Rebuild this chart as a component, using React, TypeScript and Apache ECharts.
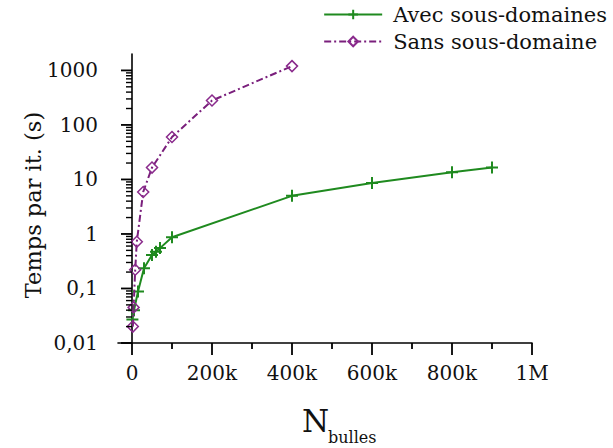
import React, { useEffect, useRef } from "react";
import * as echarts from "echarts";

const seriesNames = ["Avec sous-domaines", "Sans sous-domaine"];
const avecX = [1000, 5000, 15000, 30000, 50000, 60000, 70000, 100000, 400000, 600000, 800000, 900000];
const avecY = [0.027, 0.04, 0.088, 0.235, 0.41, 0.47, 0.55, 0.87, 5.0, 8.6, 13.5, 16.5];
const sansX = [2000, 4000, 8000, 12000, 28000, 50000, 100000, 200000, 400000];
const sansY = [0.02, 0.045, 0.22, 0.72, 5.9, 16.5, 60, 280, 1200];
const xMajorTicks = [0, 200000, 400000, 600000, 800000, 1000000];
const xMinorTicks = [100000, 300000, 500000, 700000, 900000];
const xTickLabels = ["0", "200k", "400k", "600k", "800k", "1M"];
const yMajorTicks = [0.01, 0.1, 1, 10, 100, 1000];
const yTickLabels = ["0,01", "0,1", "1", "10", "100", "1000"];
const yDecades = [0.01, 0.1, 1, 10, 100];
const yMinorMultipliers = [2, 3, 4, 5, 6, 7, 8, 9];

const FONT = "DejaVu Serif";
const GREEN = "#1f8a1f";
const PURPLE = "#8a2a8c";

export default function App() {
  const ref = useRef<HTMLDivElement>(null);
  useEffect(() => {
    if (!ref.current) return;
    const chart = echarts.init(ref.current, undefined, { renderer: "svg" });
    const xMin = -35000;
    const xMax = 1000000;
    const yMin = 0.01;
    const yMax = 2000;
    const yMinorTicks: number[] = [];
    yDecades.forEach((d) => yMinorMultipliers.forEach((k) => yMinorTicks.push(Number((d * k).toPrecision(3)))));
    const labelFor = (v: number, ticks: number[], labels: string[]) => {
      for (let i = 0; i < ticks.length; i++) {
        if (Math.abs(v - ticks[i]) <= Math.abs(ticks[i]) * 1e-6 + 1e-9) return labels[i];
      }
      return "";
    };
    const plus = "path://M5,0L5,10M0,5L10,5";
    // tick marks: thin rects positioned through the axes' own scales (api.coord)
    const xTickSeries = (ticks: number[], len: number, id: string, w: number) => ({
      id,
      type: "custom",
      coordinateSystem: "cartesian2d",
      xAxisIndex: 0,
      yAxisIndex: 0,
      silent: true,
      clip: false,
      z: 5,
      data: ticks.map((v) => [v, yMin]),
      renderItem: (_p: any, api: any) => {
        const pt = api.coord([api.value(0), api.value(1)]);
        return {
          type: "rect",
          shape: { x: pt[0] - w / 2, y: pt[1], width: w, height: len },
          style: { fill: "#000" },
        };
      },
    });
    const yTickSeries = (ticks: number[], len: number, id: string, w: number) => ({
      id,
      type: "custom",
      coordinateSystem: "cartesian2d",
      xAxisIndex: 0,
      yAxisIndex: 0,
      silent: true,
      clip: false,
      z: 5,
      data: ticks.map((v) => [0, v]),
      renderItem: (_p: any, api: any) => {
        const pt = api.coord([api.value(0), api.value(1)]);
        return {
          type: "rect",
          shape: { x: pt[0] - len, y: pt[1] - w / 2, width: len, height: w },
          style: { fill: "#000" },
        };
      },
    });
    chart.setOption({
      animation: false,
      backgroundColor: "#ffffff",
      textStyle: { fontFamily: FONT },
      grid: { left: 118, right: 81, top: 54, bottom: 105, containLabel: false },
      legend: {
        orient: "vertical",
        right: 6,
        top: 4,
        padding: 0,
        itemGap: 6,
        itemWidth: 58,
        itemHeight: 12,
        textStyle: { fontFamily: FONT, fontSize: 21, color: "#111", padding: [0, 0, 0, 6] },
        data: seriesNames,
      },
      xAxis: {
        type: "value",
        min: xMin,
        max: xMax,
        position: "bottom",
        axisLine: { show: true, lineStyle: { color: "#000", width: 1.6 } },
        axisTick: { show: false },
        axisLabel: {
          customValues: xMajorTicks,
          margin: 20,
          fontFamily: FONT,
          fontSize: 20,
          color: "#111",
          formatter: (v: number) => labelFor(v, xMajorTicks, xTickLabels),
        },
        splitLine: { show: false },
      },
      yAxis: {
        type: "log",
        logBase: 10,
        min: yMin,
        max: yMax,
        position: "left",
        axisLine: { show: true, onZero: true, lineStyle: { color: "#000", width: 1.6 } },
        axisTick: { show: false },
        axisLabel: {
          customValues: yMajorTicks,
          margin: 20,
          fontFamily: FONT,
          fontSize: 20,
          color: "#111",
          formatter: (v: number) => labelFor(v, yMajorTicks, yTickLabels),
        },
        splitLine: { show: false },
      },
      series: [
        {
          name: seriesNames[0],
          type: "line",
          data: avecX.map((x, i) => [x, avecY[i]]),
          symbol: plus,
          symbolSize: 12,
          showAllSymbol: true,
          lineStyle: { color: GREEN, width: 2 },
          itemStyle: { color: GREEN, borderColor: GREEN, borderWidth: 2 },
          z: 3,
        },
        {
          name: seriesNames[1],
          type: "line",
          data: sansX.map((x, i) => [x, sansY[i]]),
          symbol: "diamond",
          symbolSize: 11,
          showAllSymbol: true,
          lineStyle: { color: "#7a1f7c", width: 2, type: [7, 3, 2, 3] },
          itemStyle: { color: "rgba(255,255,255,0)", borderColor: PURPLE, borderWidth: 1.5 },
          z: 4,
        },
        xTickSeries(xMajorTicks, 12, "xMajor", 1.8),
        xTickSeries(xMinorTicks, 6, "xMinor", 1.8),
        yTickSeries(yMajorTicks, 11, "yMajor", 1.8),
        yTickSeries(yMinorTicks, 6, "yMinor", 1.4),
      ],
      graphic: [
        {
          type: "text",
          x: 33,
          y: 205,
          rotation: Math.PI / 2,
          style: {
            text: "Temps par it. (s)",
            fontFamily: FONT,
            fontSize: 22.5,
            fill: "#111",
            align: "center",
            verticalAlign: "middle",
          },
        },
        {
          type: "text",
          x: 302,
          y: 405,
          style: { text: "N", fontFamily: FONT, fontSize: 31, fill: "#111", align: "left", verticalAlign: "top" },
        },
        {
          type: "text",
          x: 328,
          y: 429,
          style: { text: "bulles", fontFamily: FONT, fontSize: 16, fill: "#111", align: "left", verticalAlign: "top" },
        },
      ],
    });
    return () => chart.dispose();
  }, []);
  return (
    <div
      ref={ref}
      style={{ position: "fixed", left: 0, top: 0, width: 613, height: 448, background: "#fff" }}
    />
  );
}
